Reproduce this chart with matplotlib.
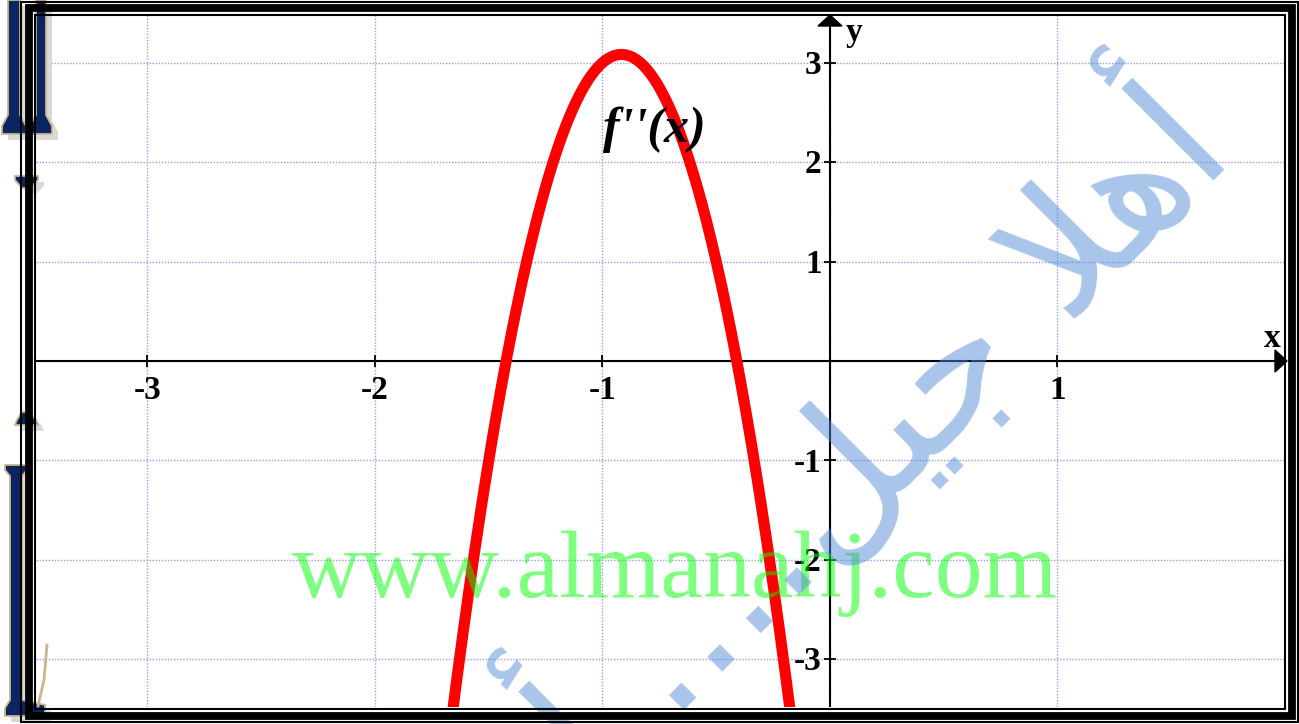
import numpy as np
import matplotlib.pyplot as plt
from matplotlib.patches import Rectangle, Polygon

# f''(x) = a x^2 + b x + c: vertex (-0.92, 3.08), roots -1.42 and -0.41
coeffs = [-12.0, -22.0, -7.0]
curve_label = "f''(x)"

x_range = (-3.49, 2.0)
y_range = (-3.48, 3.48)
x_ticks = [-3, -2, -1, 1]
y_ticks = [-3, -2, -1, 1, 2, 3]
grid_x = [-3, -2, -1, 0, 1]
grid_y = [-3, -2, -1, 0, 1, 2, 3]

watermark = "www.almanahj.com"
# arabic watermark in visual (left to right) order with presentation forms
arabic_mark = "\uFE83 ....\uFEDE\uFEF4\uFE9F \uFEFC\uFEEB\uFE83"

W, H = 1299, 724
serif = ['Liberation Serif', 'DejaVu Serif']

fig = plt.figure(figsize=(W / 100, H / 100), dpi=100)
ax = fig.add_axes([36 / W, (H - 707) / H, (1285 - 36) / W, (707 - 15) / H])
ax.set_xlim(*x_range)
ax.set_ylim(*y_range)
for s in ax.spines.values():
    s.set_visible(False)
ax.set_xticks(grid_x)
ax.set_yticks(grid_y)
ax.tick_params(length=0, labelbottom=False, labelleft=False)
ax.grid(True, color='#9b9bf0', lw=1.0, linestyle=(0, (1, 1.2)))

# the curve
xs = np.linspace(x_range[0], x_range[1], 1000)
ax.plot(xs, np.polyval(coeffs, xs), color='red', lw=8, zorder=4)
ax.text(-0.77, 2.2, curve_label, fontsize=36, fontweight='bold', style='italic',
        family=serif, ha='center', va='baseline', zorder=5)

# axes through the origin
ax.axhline(0, color='k', lw=1.5, zorder=3)
ax.axvline(0, color='k', lw=1.5, zorder=3)
ax.plot(x_ticks, [0] * len(x_ticks), ls='none', marker='|', ms=8, mew=1.3, color='k', zorder=3)
ax.plot([0] * len(y_ticks), y_ticks, ls='none', marker='_', ms=9, mew=1.3, color='k', zorder=3)

lab = dict(fontsize=24, fontweight='bold', family=serif, textcoords='offset points')
for v in x_ticks:
    ax.annotate(str(v), (v, 0), xytext=(0, -27), ha='center', va='baseline', **lab)
for v in y_ticks:
    ax.annotate(str(v), (0, v), xytext=(-6, -8), ha='right', va='baseline', **lab)
ax.annotate('x', (x_range[1], 0), xytext=(-9.5, 10), ha='center', va='baseline', **lab)
ax.annotate('y', (0, y_range[1]), xytext=(17.5, -18.5), ha='center', va='baseline', **lab)

# overlay in pixel coordinates for frame, arrows and watermarks
ov = fig.add_axes([0, 0, 1, 1])
ov.set_zorder(3)
ov.set_xlim(0, W)
ov.set_ylim(H, 0)
ov.axis('off')


def to_px(x, y):
    dx, dy = ax.transData.transform((x, y))
    return dx, H - dy


ox, oy = to_px(0, 0)
_, ytop = to_px(0, y_range[1])
xright, _ = to_px(x_range[1], 0)
ov.add_patch(Polygon([(ox, ytop), (ox - 12, ytop + 11), (ox + 12, ytop + 11)], color='k', zorder=6))
ov.add_patch(Polygon([(xright + 2, oy), (xright - 10, oy - 11), (xright - 10, oy + 11)], color='k', zorder=6))

# watermarks
ov.text(675, 597, watermark, fontsize=69, family=serif, color='#00ff00', alpha=0.5,
        ha='center', va='baseline', zorder=4)
t = ov.text(872, 430, arabic_mark, fontsize=100, family=['DejaVu Sans'],
            color='#538bd5', alpha=0.5, ha='center', va='center', zorder=4)
fig.canvas.draw()
w = t.get_window_extent().width
t.set_fontsize(100 * 900 / w)
t.set_rotation(45)
t.set_rotation_mode('anchor')

# decorative glyph fragments on the left edge
navy, tan, shade = '#0b2462', '#c9b68e', '#d9d9d9'
pieces = [
    [(8, 0), (20, 0), (20, 115), (26, 126), (26, 134), (2, 134), (2, 126), (8, 115)],
    [(36, 0), (46, 0), (46, 115), (52, 126), (52, 134), (30, 134), (30, 126), (36, 115)],
    [(15, 176), (38, 176), (38, 180), (30, 188), (22, 188), (15, 180)],
    [(22, 412), (28, 412), (36, 420), (38, 425), (15, 425), (17, 420)],
    [(5, 465), (27, 465), (27, 470), (22, 476), (22, 700), (45, 705), (45, 716),
     (5, 716), (5, 708), (10, 700), (10, 476), (5, 470)],
]
for p in pieces:
    ov.add_patch(Polygon([(a + 6, b + 6) for a, b in p], color=shade, lw=0, zorder=1))
for p in pieces:
    ov.add_patch(Polygon(p, fc=navy, ec=tan, lw=1.3, zorder=2))
ov.plot([47, 44, 38], [645, 680, 706], color=tan, lw=2, zorder=2)

# double frame
ov.add_patch(Rectangle((21, 1.8), 1298.3 - 21, 722.2 - 1.8, fill=False, ec='k', lw=1.5, zorder=7))
ov.add_patch(Rectangle((29, 8.3), 1292.2 - 29, 716 - 8.3, fill=False, ec='k', lw=5.6, zorder=7))
ov.add_patch(Rectangle((35.2, 14.7), 1285.3 - 35.2, 708.5 - 14.7, fill=False, ec='k', lw=1.5, zorder=7))

fig.savefig('out.png', dpi=100)
